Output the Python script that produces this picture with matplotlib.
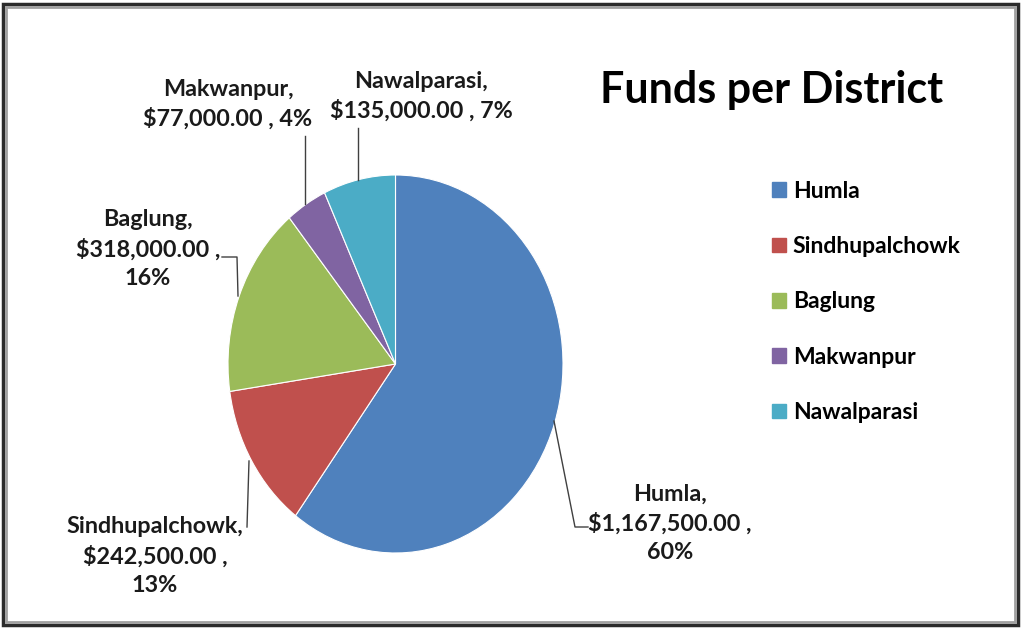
import matplotlib.pyplot as plt
from matplotlib.patches import Rectangle

districts = ['Humla', 'Sindhupalchowk', 'Baglung', 'Makwanpur', 'Nawalparasi']
funds = [1167500.00, 242500.00, 318000.00, 77000.00, 135000.00]
colors = ['#4F81BD', '#C0504D', '#9BBB59', '#8064A2', '#4BACC6']

W, H = 1024, 629
cx, cy = 395.5, 364.0
rx, ry = 167.5, 189.0

plt.rcParams['font.family'] = ['Lato', 'DejaVu Sans']
plt.rcParams['font.weight'] = 'bold'

fig = plt.figure(figsize=(W / 100, H / 100), dpi=100)
ax = fig.add_axes([0, 0, 1, 1])

ax.pie(funds, colors=colors, startangle=90, counterclock=False,
       wedgeprops=dict(edgecolor='white', linewidth=0.8))
ax.set_aspect('auto')
# map pixel space onto data space so the pie is drawn as the reference ellipse
ax.set_xlim(-cx / rx, (W - cx) / rx)
ax.set_ylim((cy - H) / ry, cy / ry)
ax.axis('off')


def px(x, y):
    return ((x - cx) / rx, (cy - y) / ry)


total = sum(funds)
pct = [round(v / total * 100 + 1e-9) for v in funds]
labels = [f"{d},\n${v:,.2f} , {p}%" for d, v, p in zip(districts, funds, pct)]
labels[0] = f"{districts[0]},\n${funds[0]:,.2f} ,\n{pct[0]}%"
labels[1] = f"{districts[1]},\n${funds[1]:,.2f} ,\n{pct[1]}%"
labels[2] = f"{districts[2]},\n${funds[2]:,.2f} ,\n{pct[2]}%"

label_pos = [(670, 523), (155, 556), (148, 249), (228, 104), (421, 96)]
for lab, (x, y) in zip(labels, label_pos):
    ax.text(*px(x, y), lab, ha='center', va='center', fontsize=16.8,
            linespacing=1.42, color='#1a1a1a')

# leader lines
leaders = [
    [(554, 421), (575, 527), (588, 527)],
    [(249, 461), (247, 527)],
    [(222, 257), (237, 257), (238, 296)],
    [(305, 136), (305, 204)],
    [(358, 128), (358, 180)],
]
for pts in leaders:
    xs, ys = zip(*[px(x, y) for x, y in pts])
    ax.plot(xs, ys, color='#404040', lw=1.0)

fig.text(772 / W, 1 - 90 / H, 'Funds per District', ha='center', va='center',
         fontsize=31, fontweight='bold', color='black')

handles = [Rectangle((0, 0), 1, 1, color=c) for c in colors]
fig.legend(handles, districts, loc='upper left', bbox_to_anchor=(751 / W, 1 - 160 / H),
           frameon=False, handlelength=0.62, handleheight=0.62,
           handletextpad=0.3, labelspacing=1.5, prop={'weight': 'bold', 'size': 16.5})

# chart frame
fig.patches.append(Rectangle((3 / W, 4 / H), 1015 / W, 621 / H, transform=fig.transFigure,
                             fill=False, edgecolor='#2b2b2b', lw=2.5))
fig.patches.append(Rectangle((6 / W, 7 / H), 1009 / W, 615 / H, transform=fig.transFigure,
                             fill=False, edgecolor='#a0a0a0', lw=2))

fig.savefig('out.png', dpi=100)
